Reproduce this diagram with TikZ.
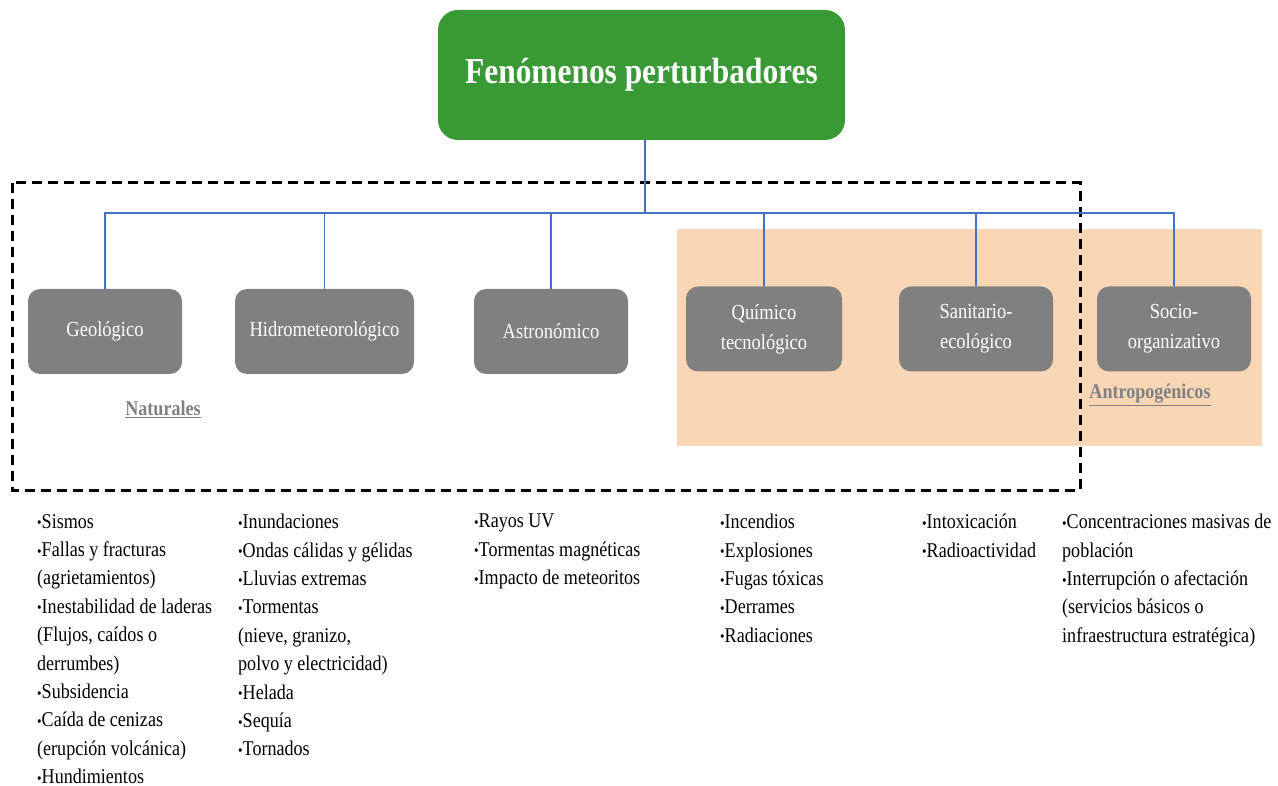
\documentclass[tikz,border=0pt]{standalone}
\usepackage{fontspec}
\setmainfont[FakeStretch=0.86]{Liberation Serif}
\definecolor{fengreen}{RGB}{57,153,52}
\definecolor{catgray}{RGB}{128,128,128}
\definecolor{peach}{RGB}{248,214,182}
\definecolor{linkblue}{RGB}{68,114,196}
\newcommand{\bul}{\raisebox{0.5pt}{\fontsize{15}{15}\selectfont•}}
\tikzset{
  catbox/.style={rectangle, rounded corners=12pt, fill=catgray, text=white, minimum width=154pt, minimum height=85pt, align=center, font=\fontsize{21.5}{30}\selectfont},
  itemlist/.style={anchor=north west, inner sep=0pt, align=left, font=\fontsize{21}{28.4}\selectfont},
  grouplabel/.style={text=catgray, inner sep=0pt, font=\fontsize{21}{24}\selectfont\bfseries},
  link/.style={draw=linkblue, line width=1.3pt}
}
\begin{document}
\begin{tikzpicture}[x=1pt,y=-1pt]
\useasboundingbox (0,0) rectangle (1278,786);
% groups
\fill[peach] (677,229) rectangle (1262,446);
\draw[line width=3pt, dash pattern=on 10pt off 6pt] (12,183) rectangle (1080,490);
\node[grouplabel] (nat) at (163,409) {\underline{Naturales}};
\node[grouplabel] (antro) at (1150,395) {\underline{Antropogénicos}};

% title
\node[rectangle, rounded corners=20pt, fill=fengreen, text=white, minimum width=407pt, minimum height=130pt, font=\fontsize{36.5}{40}\selectfont\bfseries] (fen) at (641.5,75) {\raisebox{-3pt}{Fenómenos perturbadores}};

% categories
\node[catbox] (geo) at (105,331.5) {Geológico};
\node[catbox, minimum width=179pt] (hidro) at (324.5,331.5) {Hidrometeorológico};
\node[catbox] (astro) at (551,331.5) {Astronómico};
\node[catbox, minimum width=156pt] (quim) at (764,329) {Químico\\tecnológico};
\node[catbox] (sani) at (976,329) {Sanitario-\\ecológico};
\node[catbox] (socio) at (1174,329) {Socio-\\organizativo};

% connectors
\coordinate (trunk) at (645,213);
\draw[link] (fen.south -| trunk) -- (trunk);
\draw[link] (trunk) -| (geo.north);
\draw[link] (trunk) -| (hidro.north);
\draw[link] (trunk) -| (astro.north);
\draw[link] (trunk) -| (quim.north);
\draw[link] (trunk) -| (sani.north);
\draw[link] (trunk) -| (socio.north);

% lists
\node[itemlist] (lgeo) at (37,514) {\bul Sismos\\\bul Fallas y fracturas\\(agrietamientos)\\\bul Inestabilidad de laderas\\(Flujos, caídos o\\derrumbes)\\\bul Subsidencia\\\bul Caída de cenizas\\(erupción volcánica)\\\bul Hundimientos};
\node[itemlist] (lhidro) at (238,514) {\bul Inundaciones\\\bul Ondas cálidas y gélidas\\\bul Lluvias extremas\\\bul Tormentas\\(nieve, granizo,\\polvo y electricidad)\\\bul Helada\\\bul Sequía\\\bul Tornados};
\node[itemlist] (lastro) at (474,514) {\bul Rayos UV\\\bul Tormentas magnéticas\\\bul Impacto de meteoritos};
\node[itemlist] (lquim) at (720,514) {\bul Incendios\\\bul Explosiones\\\bul Fugas tóxicas\\\bul Derrames\\\bul Radiaciones};
\node[itemlist] (lsani) at (922,514) {\bul Intoxicación\\\bul Radioactividad};
\node[itemlist] (lsocio) at (1062,514) {\bul Concentraciones masivas de\\población\\\bul Interrupción o afectación\\(servicios básicos o\\infraestructura estratégica)};

\end{tikzpicture}
\end{document}
